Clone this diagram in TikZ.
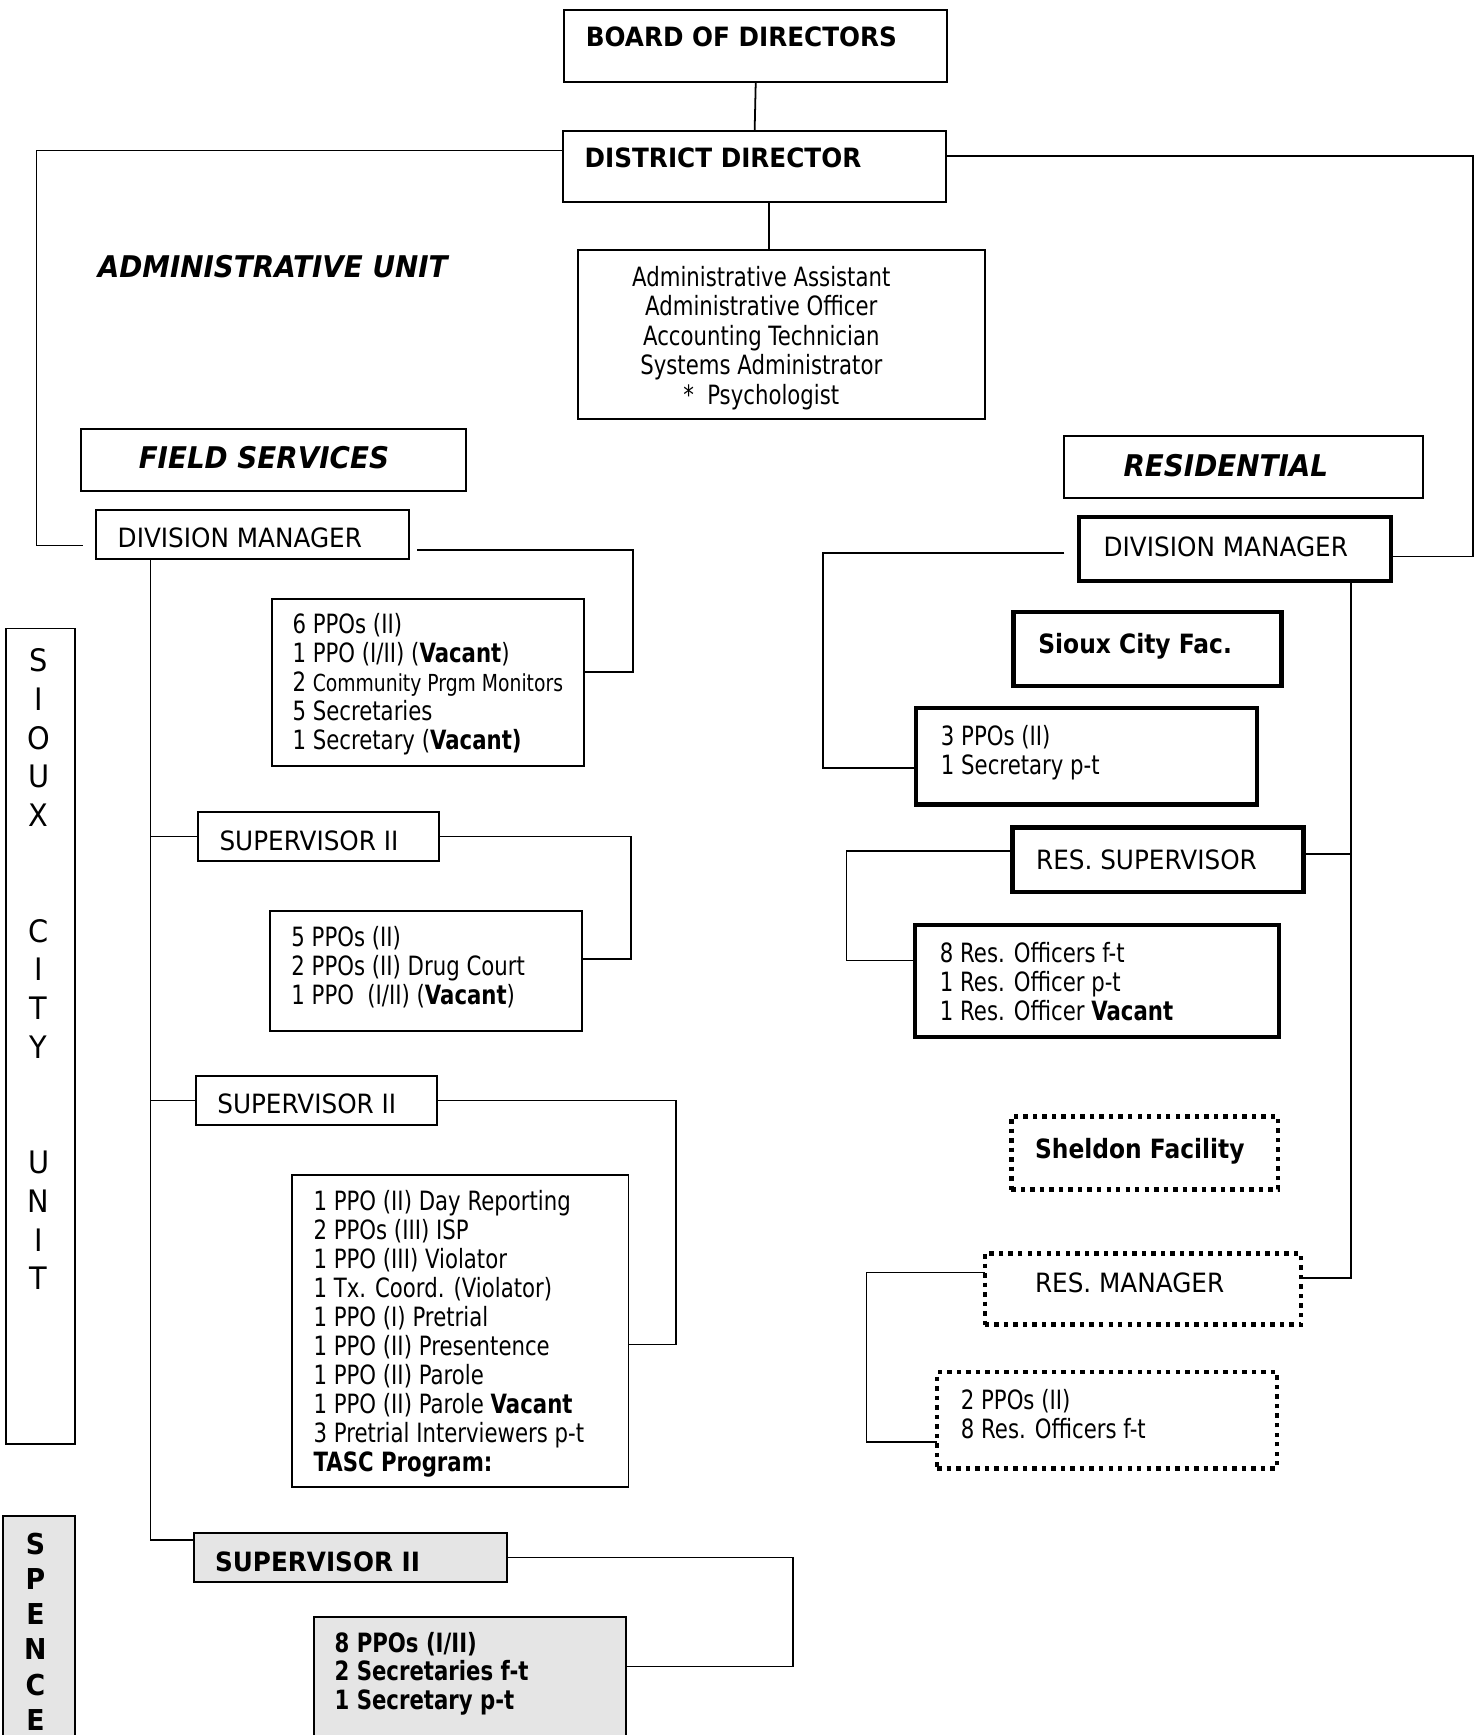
\documentclass[tikz,border=0pt]{standalone}
\usepackage{fontspec}
\setmainfont{DejaVu Sans}[FakeStretch=0.80]
\newfontfamily\capsfont{DejaVu Sans}[FakeStretch=0.93]
\newfontfamily\midfont{DejaVu Sans}[FakeStretch=0.88]
\usetikzlibrary{calc}
\newcommand\bx[6]{\node[#6, anchor=north west, minimum width={(#4-#2)*0.5pt}, minimum height={(#5-#3)*0.5pt}] (#1) at (#2,#3) {};}
\begin{document}
\begin{tikzpicture}[x=0.5pt,y=-0.5pt,
  box/.style={draw, line width=0.9pt, inner sep=0pt, outer sep=0pt},
  sbox/.style={box, fill=black!10},
  tbox/.style={draw, line width=2pt, inner sep=0pt, outer sep=0pt},
  dbox/.style={draw, line width=2pt, dash pattern=on 2pt off 2.3pt, inner sep=0pt, outer sep=0pt},
  conn/.style={line width=0.8pt},
  txt/.style={inner sep=0pt, anchor=north west, align=left, font=\fontsize{12}{13.1}\selectfont},
  captxt/.style={txt, font=\fontsize{12}{13}\selectfont\capsfont},
  bcaptxt/.style={txt, font=\fontsize{12}{13}\selectfont\capsfont\bfseries},
  btxt/.style={txt, font=\fontsize{12}{13}\selectfont\bfseries},
  bmtxt/.style={txt, font=\fontsize{12}{13}\selectfont\midfont\bfseries},
  bitxt/.style={txt, font=\fontsize{13.5}{15}\selectfont\capsfont\bfseries\itshape},
  ctxt/.style={inner sep=0pt, anchor=north, align=center, font=\fontsize{12}{13.35}\selectfont},
  vtxt/.style={inner sep=0pt, anchor=north, align=center, font=\fontsize{14}{17.45}\selectfont\capsfont},
  vbtxt/.style={inner sep=0pt, anchor=north, align=center, font=\fontsize{13}{15.9}\selectfont\capsfont\bfseries}
]
\useasboundingbox (0,0) rectangle (1336,1568);
\clip (0,0) rectangle (1336,1568);

% ---- boxes ----
\bx{bod}{510}{9}{856}{74}{box}
\bx{dd}{509}{118}{855}{183}{box}
\bx{adm}{522}{226}{890}{379}{box}
\bx{fs}{73}{388}{421}{444}{box}
\bx{res}{962}{394}{1286}{450}{box}
\bx{fdm}{87}{461}{370}{505}{box}
\bx{ppo1}{246}{541}{528}{692}{box}
\bx{sup1}{179}{734}{397}{778}{box}
\bx{ppo2}{244}{823}{526}{932}{box}
\bx{sup2}{177}{972}{395}{1017}{box}
\bx{ppo3}{264}{1062}{568}{1344}{box}
\bx{sup3}{175}{1385}{458}{1430}{sbox}
\bx{ppo4}{284}{1461}{566}{1600}{sbox}
\bx{sc}{5}{568}{68}{1305}{box}
\bx{sp}{3}{1370}{68}{1600}{sbox}
\bx{rdm}{975}{467}{1257}{525}{tbox}
\bx{scf}{916}{553}{1158}{620}{tbox}
\bx{rppo1}{828}{640}{1136}{727}{tbox}
\bx{rsup}{915}{748}{1178}{806}{tbox}
\bx{rppo2}{827}{836}{1156}{937}{tbox}
\bx{shel}{914}{1009}{1155}{1075}{dbox}
\bx{resmgr}{890}{1133}{1176}{1197}{dbox}
\bx{rppo3}{847}{1240}{1154}{1327}{dbox}

% ---- texts ----
\node[bcaptxt] (tbod) at (529,24) {BOARD OF DIRECTORS};
\node[bcaptxt] (tdd) at (528,133) {DISTRICT DIRECTOR};
\node[ctxt] (tadm) at (688,240) {Administrative Assistant\\Administrative Officer\\Accounting Technician\\Systems Administrator\\*\enspace Psychologist\hspace{15pt}};
\node[bitxt] (tau) at (88,230) {ADMINISTRATIVE UNIT};
\node[bitxt] (tfs) at (125,403) {FIELD SERVICES};
\node[bitxt] (tres) at (1015,410) {RESIDENTIAL};
\node[captxt] (tfdm) at (106,476.5) {DIVISION MANAGER};
\node[txt] (tppo1) at (264,553.5) {6 PPOs (II)\\1 PPO (I/II) (\textbf{Vacant})\\2 {\fontsize{10.6}{13}\selectfont Community Prgm Monitors}\\5 Secretaries\\1 Secretary (\textbf{Vacant)}};
\node[captxt] (tsup1) at (198,750.5) {SUPERVISOR II};
\node[txt] (tppo2) at (263,836.5) {5 PPOs (II)\\2 PPOs (II) Drug Court\\1 PPO\enspace(I/II) (\textbf{Vacant})};
\node[captxt] (tsup2) at (196,988.5) {SUPERVISOR II};
\node[txt] (tppo3) at (283,1075.5) {1 PPO (II) Day Reporting\\2 PPOs (III) ISP\\1 PPO (III) Violator\\1 Tx. Coord. (Violator)\\1 PPO (I) Pretrial\\1 PPO (II) Presentence\\1 PPO (II) Parole\\1 PPO (II) Parole \textbf{Vacant}\\3 Pretrial Interviewers p-t\\\textbf{TASC Program:}};
\node[bcaptxt] (tsup3) at (194,1402) {SUPERVISOR II};
\node[btxt] (tppo4) at (302,1474.5) {8 PPOs (I/II)\\2 Secretaries f-t\\1 Secretary p-t};
\node[vtxt] (tsc) at (35,586) {S\\I\\O\\U\\X\\\mbox{}\\\mbox{}\\C\\I\\T\\Y\\\mbox{}\\\mbox{}\\U\\N\\I\\T};
\node[vbtxt] (tsp) at (32,1385) {S\\P\\E\\N\\C\\E};
\node[captxt] (trdm) at (997,484.5) {DIVISION MANAGER};
\node[bmtxt] (tscf) at (938,572) {Sioux City Fac.};
\node[txt] (trppo1) at (850,655.5) {3 PPOs (II)\\1 Secretary p-t};
\node[captxt] (trsup) at (936,767.5) {RES. SUPERVISOR};
\node[txt] (trppo2) at (849,851.5) {8 Res. Officers f-t\\1 Res. Officer p-t\\1 Res. Officer \textbf{Vacant}};
\node[bmtxt] (tshel) at (935,1028) {Sheldon Facility};
\node[captxt] (tresmgr) at (935,1149.5) {RES. MANAGER};
\node[txt] (trppo3) at (868,1255.5) {2 PPOs (II)\\8 Res. Officers f-t};

% ---- connectors ----
\draw[conn] (bod.south) -- (dd.north);
\draw[conn] ($(dd.south west)+(186,0)$) -- ($(adm.north west)+(173,0)$);
\draw[conn] ($(dd.north west)+(0,18)$) -| ($(fdm.west)+(-54,10)$) -- ($(fdm.west)+(-12,10)$);
\draw[conn] ($(dd.east)+(0,-9.5)$) -| ($(rdm.east)+(74,7)$) -- ($(rdm.east)+(2,7)$);
% field services
\draw[conn] ($(fdm.south east)+(7,-8)$) -| ($(ppo1.east)+(44,-9.5)$) -- ($(ppo1.east)+(0,-9.5)$);
\draw[conn] ($(fdm.south west)+(49,0)$) |- ($(sup3.west)+(0,-15.5)$);
\draw[conn] ($(sup1.west)+(-43,0)$) -- (sup1.west);
\draw[conn] ($(sup2.west)+(-41,0)$) -- (sup2.west);
\draw[conn] (sup1.east) -| ($(ppo2.east)+(44,-10.5)$) -- ($(ppo2.east)+(0,-10.5)$);
\draw[conn] (sup2.east) -| ($(ppo3.east)+(43,12)$) -- ($(ppo3.east)+(0,12)$);
\draw[conn] (sup3.east) -| ($(ppo4.north east)+(151,45)$) -- ($(ppo4.north east)+(0,45)$);
% residential
\draw[conn] ($(rdm.west)+(-13,4)$) -| ($(rppo1.west)+(-84,10.5)$) -- ($(rppo1.west)+(0,10.5)$);
\draw[conn] ($(rdm.south west)+(246,0)$) |- ($(resmgr.east)+(0,-10)$);
\draw[conn] ($(rsup.east)+(43,-5)$) -- ($(rsup.east)+(0,-5)$);
\draw[conn] ($(rsup.west)+(0,-8)$) -| ($(rppo2.west)+(-62,-18.5)$) -- ($(rppo2.west)+(0,-18.5)$);
\draw[conn] ($(resmgr.west)+(0,-15)$) -| ($(rppo3.west)+(-64,19.5)$) -- ($(rppo3.west)+(0,19.5)$);
\end{tikzpicture}
\end{document}
